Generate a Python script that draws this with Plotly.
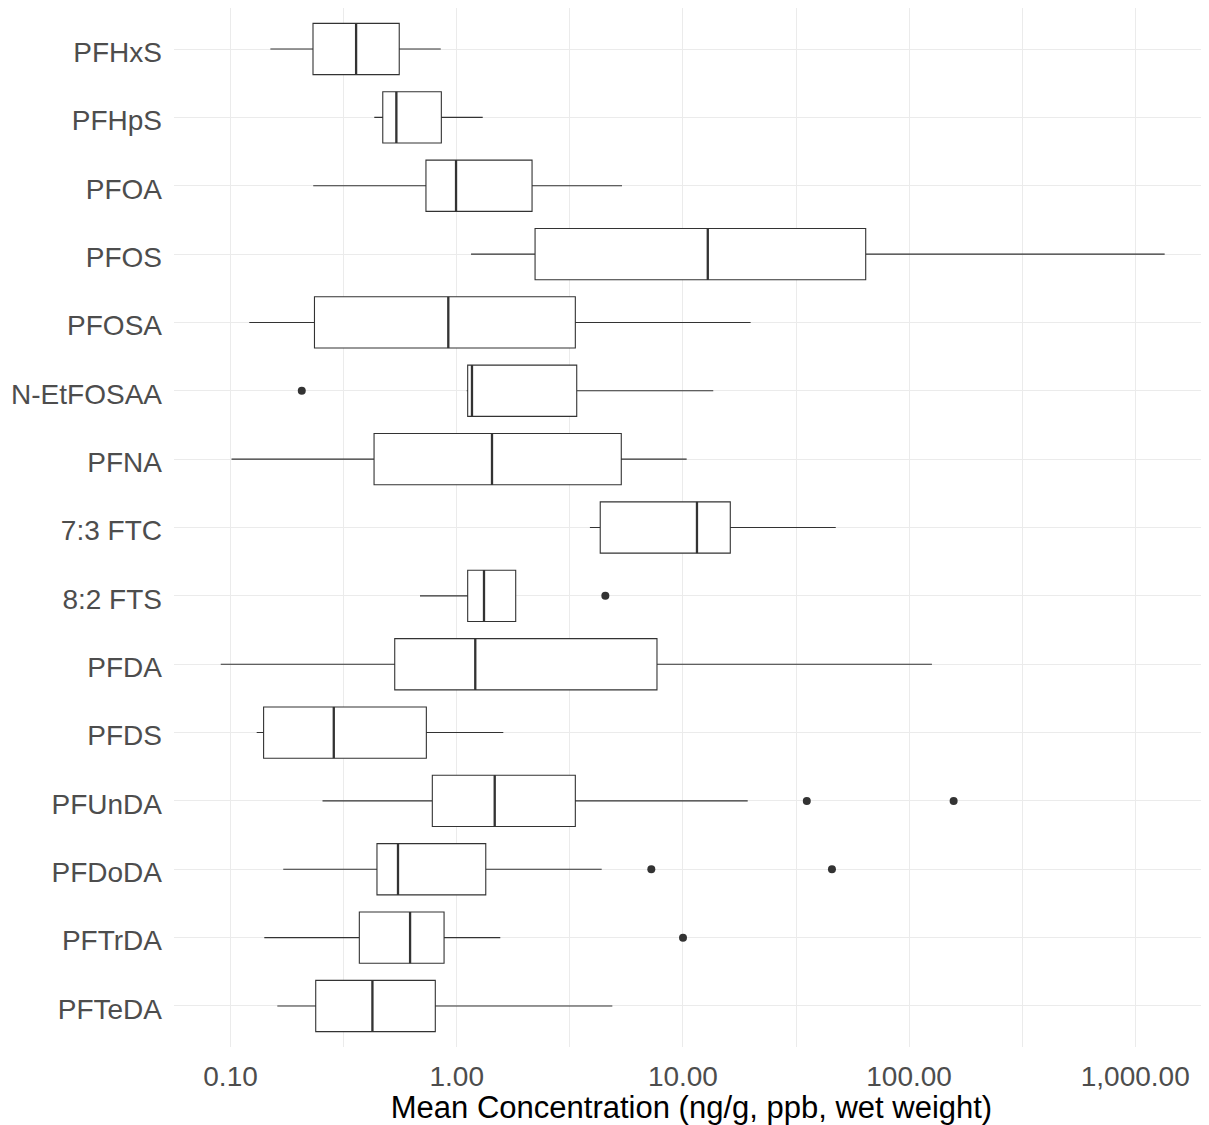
import numpy as np
import plotly.graph_objects as go

# ---------------- data ----------------
categories = ["PFHxS", "PFHpS", "PFOA", "PFOS", "PFOSA", "N-EtFOSAA", "PFNA",
              "7:3 FTC", "8:2 FTS", "PFDA", "PFDS", "PFUnDA", "PFDoDA",
              "PFTrDA", "PFTeDA"]
lower_whisker = [0.150, 0.432, 0.232, 1.157, 0.121, 1.107, 0.101, 3.88, 0.688,
                 0.0905, 0.1305, 0.255, 0.171, 0.141, 0.161]
q1_values = [0.2315, 0.471, 0.731, 2.22, 0.235, 1.118, 0.431, 4.31, 1.118,
             0.532, 0.140, 0.780, 0.444, 0.371, 0.238]
median_values = [0.359, 0.541, 0.993, 12.88, 0.918, 1.168, 1.432, 11.54, 1.32,
                 1.208, 0.286, 1.472, 0.550, 0.622, 0.424]
q3_values = [0.557, 0.855, 2.153, 64.3, 3.345, 3.393, 5.34, 16.2, 1.823,
             7.68, 0.734, 3.345, 1.344, 0.879, 0.804]
upper_whisker = [0.850, 1.303, 5.38, 1349.0, 19.93, 13.62, 10.39, 47.4, 1.823,
                 126.2, 1.607, 19.34, 4.375, 1.558, 4.875]

outlier_categories = ["N-EtFOSAA", "8:2 FTS", "PFUnDA", "PFUnDA", "PFDoDA",
                      "PFDoDA", "PFTrDA"]
outlier_values = [0.2065, 4.54, 35.3, 157.4, 7.25, 45.6, 10.01]

x_tick_values = [0.1, 1, 10, 100, 1000]
x_tick_labels = ["0.10", "1.00", "10.00", "100.00", "1,000.00"]
x_title = "Mean Concentration (ng/g, ppb, wet weight)"

# ---------------- styling ----------------
INK = "#333333"
GRID = "#ebebeb"
BOX_W = 0.75

pos = {c: i for i, c in enumerate(categories)}
y_pos = [pos[c] for c in categories]

fig = go.Figure()

fig.add_trace(go.Box(
    y=y_pos,
    q1=q1_values, median=median_values, q3=q3_values,
    lowerfence=lower_whisker, upperfence=upper_whisker,
    orientation="h",
    width=BOX_W,
    whiskerwidth=0,
    boxpoints=False,
    fillcolor="white",
    line=dict(color=INK, width=1.1),
    showlegend=False,
    hoverinfo="skip",
))

# thicker median lines (ggplot style)
mx, my = [], []
for i, m in zip(y_pos, median_values):
    mx += [m, m, None]
    my += [i - BOX_W / 2, i + BOX_W / 2, None]
fig.add_trace(go.Scatter(
    x=mx, y=my, mode="lines",
    line=dict(color=INK, width=2.3),
    showlegend=False, hoverinfo="skip",
))

fig.add_trace(go.Scatter(
    x=outlier_values, y=[pos[c] for c in outlier_categories],
    mode="markers",
    marker=dict(color=INK, size=8),
    showlegend=False, hoverinfo="skip",
))

minor_vals = [float(np.sqrt(a * b)) for a, b in zip(x_tick_values[:-1], x_tick_values[1:])]

# page body has an 8px default margin; size the figure to fill the window
fig.update_layout(
    width=1201, height=1117,
    margin=dict(l=166, r=0, t=0, b=78, autoexpand=False),
    paper_bgcolor="white", plot_bgcolor="white",
    font=dict(family="Liberation Sans, Arial, sans-serif"),
    xaxis=dict(
        type="log",
        range=[-1.25, 3.326],
        tickvals=x_tick_values, ticktext=x_tick_labels,
        tickfont=dict(size=28, color="#4d4d4d"),
        showgrid=True, gridcolor=GRID, gridwidth=1.1,
        minor=dict(tickvals=minor_vals, showgrid=True, gridcolor=GRID, gridwidth=0.55),
        zeroline=False, showline=False, ticks="",
        ticklabelstandoff=10,
        title=dict(text=x_title, font=dict(size=31, color="black"), standoff=6),
        automargin=False,
    ),
    yaxis=dict(
        range=[len(categories) - 0.4, -0.6],
        tickvals=y_pos, ticktext=categories,
        tickfont=dict(size=28, color="#4d4d4d"),
        showgrid=True, gridcolor=GRID, gridwidth=1.1,
        zeroline=False, showline=False, ticks="",
        ticklabelstandoff=11,
        ticklabelshift=-3,
        automargin=False,
    ),
)

fig.write_html("out.html")
